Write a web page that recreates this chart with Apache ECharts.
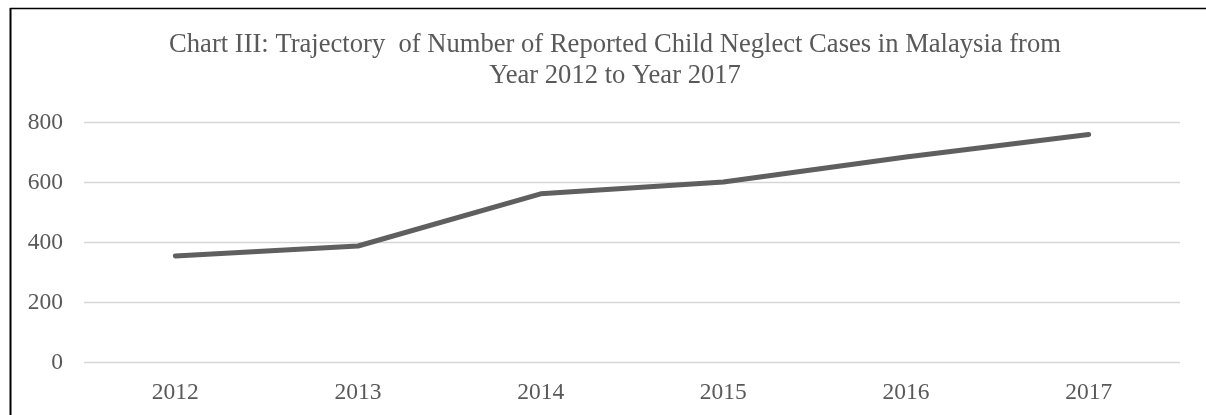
<!DOCTYPE html>
<html>
<head>
<meta charset="utf-8">
<script src="https://cdn.jsdelivr.net/npm/echarts@6/dist/echarts.min.js"></script>
<style>
  html, body { margin: 0; padding: 0; background: #ffffff; }
  #chart { width: 1206px; height: 415px; }
</style>
</head>
<body>
<div id="chart"></div>
<script>
// Reported child neglect cases, Malaysia
const years = ['2012', '2013', '2014', '2015', '2016', '2017'];
const cases = [356, 389, 563, 602, 686, 761];
const yTicks = { min: 0, max: 800, interval: 200 };

const textGray = '#595959';
const serif = '"Liberation Serif", "Times New Roman", serif';

const chart = echarts.init(document.getElementById('chart'), null, { renderer: 'canvas' });

chart.setOption({
  backgroundColor: '#ffffff',
  animation: false,
  title: {
    text: 'Chart III: Trajectory  of Number of Reported Child Neglect Cases in Malaysia from\nYear 2012 to Year 2017',
    left: 610,
    top: 25,
    textAlign: 'center',
    textStyle: {
      fontFamily: serif,
      fontSize: 26.6,
      fontWeight: 'normal',
      color: textGray,
      lineHeight: 31,
      align: 'center'
    }
  },
  grid: { left: 84, right: 26, top: 122.7, bottom: 52.3, containLabel: false },
  xAxis: {
    type: 'category',
    data: years,
    boundaryGap: true,
    axisLine: { show: false },
    axisTick: { show: false },
    axisLabel: {
      margin: 18,
      fontFamily: serif,
      fontSize: 23.5,
      color: textGray
    }
  },
  yAxis: {
    type: 'value',
    min: yTicks.min,
    max: yTicks.max,
    interval: yTicks.interval,
    axisLine: { show: false },
    axisTick: { show: false },
    axisLabel: {
      margin: 21,
      fontFamily: serif,
      fontSize: 23.5,
      color: textGray
    },
    splitLine: { lineStyle: { color: '#d6d6d6', width: 1.4 } }
  },
  series: [{
    type: 'line',
    data: cases,
    showSymbol: false,
    symbol: 'none',
    lineStyle: { color: '#5f5f5f', width: 5, cap: 'round', join: 'round' }
  }],
  graphic: [
    { type: 'line', shape: { x1: 10.5, y1: 8, x2: 10.5, y2: 415 }, style: { stroke: '#000', lineWidth: 2 } },
    { type: 'line', shape: { x1: 10, y1: 8.5, x2: 1206, y2: 8.5 }, style: { stroke: '#000', lineWidth: 1.5 } }
  ]
});
</script>
</body>
</html>
